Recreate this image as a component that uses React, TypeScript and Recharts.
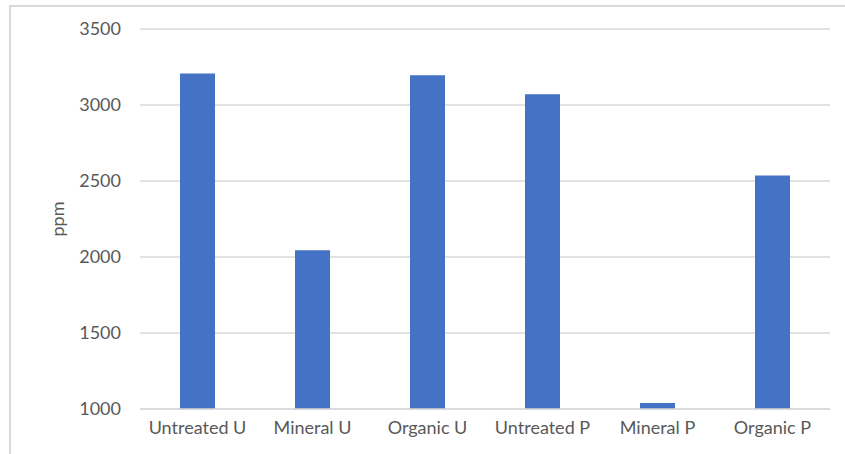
import { BarChart, Bar, XAxis, YAxis, CartesianGrid, Label } from "recharts";

const categories = [
  "Untreated U",
  "Mineral U",
  "Organic U",
  "Untreated P",
  "Mineral P",
  "Organic P",
];
const ppmValues = [3208, 2044, 3196, 3070, 1040, 2537];
const yTicks = [1000, 1500, 2000, 2500, 3000, 3500];

const data = categories.map((name, i) => ({ name, ppm: ppmValues[i] }));

const FONT = "Lato, 'Open Sans', sans-serif";
const tickStyle = { fontSize: 18, fill: "#595959", fontFamily: FONT };

function PpmLabel(props: any) {
  const vb = props.viewBox || { x: 60, y: 29, width: 80, height: 380 };
  const cx = vb.x - 3;
  const cy = vb.y + vb.height / 2;
  return (
    <text
      x={cx}
      y={cy}
      transform={`rotate(-90, ${cx}, ${cy})`}
      textAnchor="middle"
      dominantBaseline="central"
      fontSize={18}
      fill="#595959"
      fontFamily={FONT}
    >
      ppm
    </text>
  );
}

export default function App() {
  return (
    <div style={{ position: "absolute", left: 0, top: 0, width: 845, height: 454, background: "#fff", overflow: "hidden" }}>
      <div
        style={{
          position: "absolute",
          left: 9,
          top: 5,
          width: 900,
          height: 500,
          borderLeft: "2px solid #d9d9d9",
          borderTop: "2px solid #d9d9d9",
        }}
      />
      <BarChart
        width={845}
        height={454}
        data={data}
        margin={{ top: 29, right: 15, bottom: 15, left: 60 }}
        style={{ position: "absolute", left: 0, top: 0 }}
      >
        <CartesianGrid vertical={false} stroke="#d9d9d9" strokeWidth={1.5} />
        <XAxis
          dataKey="name"
          axisLine={{ stroke: "#d9d9d9", strokeWidth: 1.5 }}
          tickLine={false}
          tickSize={0}
          tickMargin={12}
          height={30}
          interval={0}
          tick={tickStyle}
        />
        <YAxis
          domain={[1000, 3500]}
          ticks={yTicks}
          axisLine={false}
          tickLine={false}
          tickSize={0}
          tickMargin={19}
          width={80}
          allowDataOverflow
          tick={tickStyle}
        >
          <Label content={PpmLabel} />
        </YAxis>
        <Bar dataKey="ppm" fill="#4472c4" barSize={35} isAnimationActive={false} />
      </BarChart>
    </div>
  );
}
